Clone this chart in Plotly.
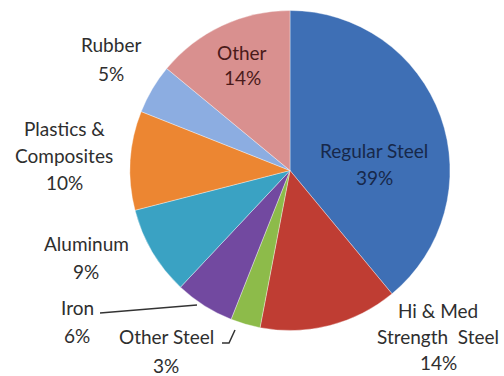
import plotly.graph_objects as go

W, H = 504, 376

categories = ["Regular Steel", "Hi & Med Strength Steel", "Other Steel", "Iron",
              "Aluminum", "Plastics & Composites", "Rubber", "Other"]
values = [39, 14, 3, 6, 9, 10, 5, 14]
# how each category's label is broken into lines
label_lines = [["Regular Steel"], ["Hi & Med", "Strength  Steel"], ["Other Steel"], ["Iron"],
               ["Aluminum"], ["Plastics &", "Composites"], ["Rubber"], ["Other"]]

colors = ["#3E6FB5", "#BF3D33", "#8DBB4A", "#7249A0", "#3AA2C3", "#EC8632", "#8CADE1", "#D9908F"]
text_colors = ["#17284a", "#2e2e2e", "#2e2e2e", "#2e2e2e", "#2e2e2e", "#2e2e2e", "#2e2e2e", "#4a1a1a"]
# label block anchor (pixel x of center, pixel y of first line) and line step
label_pos = [(374, 150, 27), (438, 310, 26), (166, 336, 29), (77, 307, 28),
             (86, 243, 28), (64, 128, 27), (111, 45, 28), (242, 52, 26)]

def px(x):
    return x / W

def py(y):
    return 1 - y / H

fig = go.Figure(go.Pie(
    labels=categories,
    values=values,
    sort=False,
    direction="clockwise",
    rotation=0,
    marker=dict(colors=colors, line=dict(color="rgba(255,255,255,0.6)", width=0.6)),
    textinfo="none",
    hoverinfo="label+percent",
    showlegend=False,
    domain=dict(x=[px(130), px(450)], y=[py(331), py(10)]),
))

total = sum(values)
annotations = []
for name_lines, v, (cx, y0, step), tc in zip(label_lines, values, label_pos, text_colors):
    lines = name_lines + [f"{round(v / total * 100)}%"]
    for i, line in enumerate(lines):
        annotations.append(dict(
            x=px(cx), y=py(y0 + i * step), xref="paper", yref="paper",
            text=line, showarrow=False, xanchor="center", yanchor="middle",
            font=dict(family="Lato, Open Sans, sans-serif", size=19, color=tc),
        ))

line_style = dict(color="#333333", width=1.5)
shapes = [
    dict(type="path", xref="paper", yref="paper",
         path=f"M {px(100)} {py(313)} L {px(197)} {py(305)}", line=line_style),
    dict(type="path", xref="paper", yref="paper",
         path=f"M {px(222)} {py(343)} L {px(229)} {py(343)} L {px(235)} {py(330)}", line=line_style),
]

fig.update_layout(
    width=W, height=H,
    margin=dict(l=0, r=0, t=0, b=0),
    paper_bgcolor="white", plot_bgcolor="white",
    annotations=annotations,
    shapes=shapes,
)

fig.write_html("out.html", config={"displayModeBar": False},
               post_script="document.body.style.margin='0';document.body.style.overflow='hidden';")
